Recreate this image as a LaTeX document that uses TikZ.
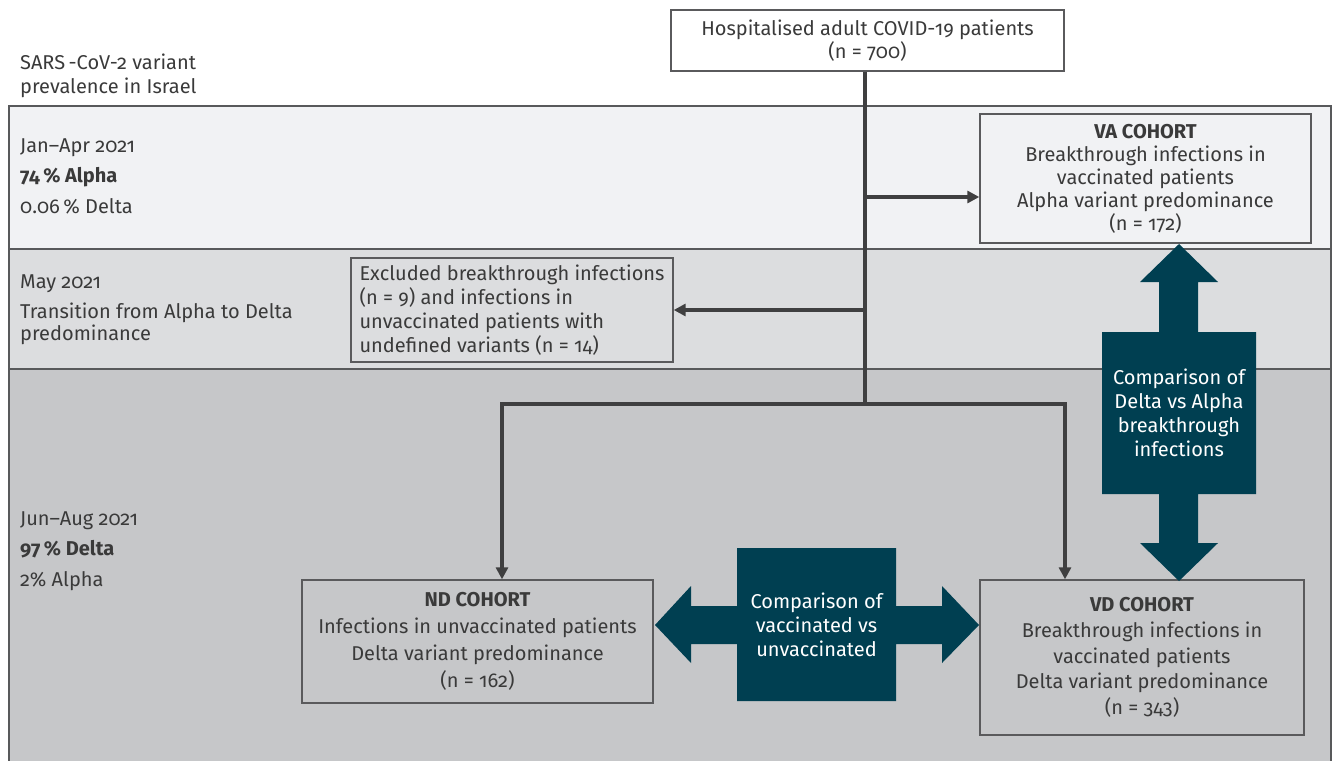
\documentclass[tikz,border=0pt]{standalone}
\usepackage{fontspec}
\setmainfont{Fira Sans}[Numbers=OldStyle]
\usetikzlibrary{arrows.meta}
\definecolor{txt}{HTML}{3A3A3A}
\definecolor{boxline}{HTML}{5A5A5C}
\definecolor{linec}{HTML}{3F3F40}
\definecolor{bandA}{HTML}{F1F2F4}
\definecolor{bandB}{HTML}{DCDDDF}
\definecolor{bandC}{HTML}{C6C7C9}
\definecolor{bandline}{HTML}{58595B}
\definecolor{tealdark}{HTML}{003F51}
\newcommand{\fsz}{\fontsize{20}{23}\selectfont}
\begin{document}
\begin{tikzpicture}[x=1pt,y=-1pt,
  box/.style={draw=boxline, line width=1.4pt, text=txt, align=center, inner sep=0pt, font=\fsz},
  lbl/.style={anchor=base west, text=txt, inner sep=0pt, font=\fsz},
  conn/.style={draw=linec, line width=3.6pt},
  arr/.style={conn, -{Triangle[length=12pt,width=12pt]}},
  tealbox/.style={fill=tealdark, text=white, align=center, inner sep=0pt, font=\fontsize{20}{24}\selectfont}
]
\useasboundingbox (0,0) rectangle (1332,760);
% bands
\filldraw[fill=bandC, draw=bandline, line width=1.5pt] (9,369) rectangle (1331,765);
\filldraw[fill=bandB, draw=bandline, line width=1.5pt] (9,249) rectangle (1331,369);
\filldraw[fill=bandA, draw=bandline, line width=1.5pt] (9,106) rectangle (1331,249);

% left labels
\node[lbl] (l1) at (20,70) {SARS\thinspace-CoV-2 variant};
\node[lbl] (l2) at (20,93) {prevalence in Israel};
\node[lbl] (l3) at (20,152) {Jan–Apr 2021};
\node[lbl] (l4) at (20,182) {\bfseries 74\,\% Alpha};
\node[lbl] (l5) at (20,213) {0.06\,\% Delta};
\node[lbl] (l6) at (20,288) {May 2021};
\node[lbl] (l7) at (20,318) {Transition from Alpha to Delta};
\node[lbl] (l8) at (20,340) {predominance};
\node[lbl] (l9) at (20,525) {Jun–Aug 2021};
\node[lbl] (l10) at (20,555) {\bfseries 97\,\% Delta};
\node[lbl] (l11) at (20,586) {2\% Alpha};

% boxes
\node[box, minimum width=393pt, minimum height=61pt] (top) at (867.5,40.5)
  {Hospitalised adult COVID-19 patients\\(n = 700)};
\node[box, minimum width=331pt, minimum height=129pt] (va) at (1145.5,178.5)
  {\bfseries VA COHORT\\Breakthrough infections in\\vaccinated patients\\Alpha variant predominance\\(n = 172)};
\node[box, minimum width=322pt, minimum height=104pt, align=left, font=\fontsize{20}{24}\selectfont] (exc) at (512,310)
  {Excluded breakthrough infections\\(n = 9) and infections in\\unvaccinated patients with\\undefined variants (n = 14)};
\node[box, minimum width=351pt, minimum height=123pt, font=\fontsize{20}{27}\selectfont] (nd) at (477.5,641.5)
  {\bfseries ND COHORT\\Infections in unvaccinated patients\\Delta variant predominance\\(n = 162)};
\node[box, minimum width=324pt, minimum height=155pt, font=\fontsize{20}{25.7}\selectfont] (vd) at (1142,657.5)
  {\bfseries VD COHORT\\Breakthrough infections in\\vaccinated patients\\Delta variant predominance\\(n = 343)};

% connectors
\coordinate (split) at (865,404);
\coordinate (jva) at (865,197);
\coordinate (jex) at (865,310);
\coordinate (bl) at (502,404);
\coordinate (br) at (1065,404);
\draw[conn] (top.south -| split) -- (split);
\draw[arr] (jva) -- (jva -| va.west);
\draw[arr] (jex) -- (jex -| exc.east);
\draw[arr] (split) -- (bl) -- (bl |- nd.north);
\draw[arr] (split) -- (br) -- (br |- vd.north);

% comparison double arrows
\fill[tealdark] (655,625) -- (691,586) -- (691,606) -- (737,606) -- (737,548) -- (896,548)
  -- (896,606) -- (942,606) -- (942,586) -- (979,625) -- (942,663) -- (942,644)
  -- (896,644) -- (896,701) -- (737,701) -- (737,644) -- (691,644) -- (691,663) -- cycle;
\node[tealbox, minimum width=159pt, minimum height=153pt] (cmph) at (816.5,624.5)
  {Comparison of\\vaccinated vs\\unvaccinated};

\fill[tealdark] (1179,244) -- (1218,282) -- (1198,282) -- (1198,332) -- (1256,332) -- (1256,494)
  -- (1198,494) -- (1198,543) -- (1218,543) -- (1179,581) -- (1140,543) -- (1159,543)
  -- (1159,494) -- (1102,494) -- (1102,332) -- (1159,332) -- (1159,282) -- (1140,282) -- cycle;
\node[tealbox, minimum width=154pt, minimum height=162pt] (cmpv) at (1179,413)
  {Comparison of\\Delta vs Alpha\\breakthrough\\infections};
\end{tikzpicture}
\end{document}
